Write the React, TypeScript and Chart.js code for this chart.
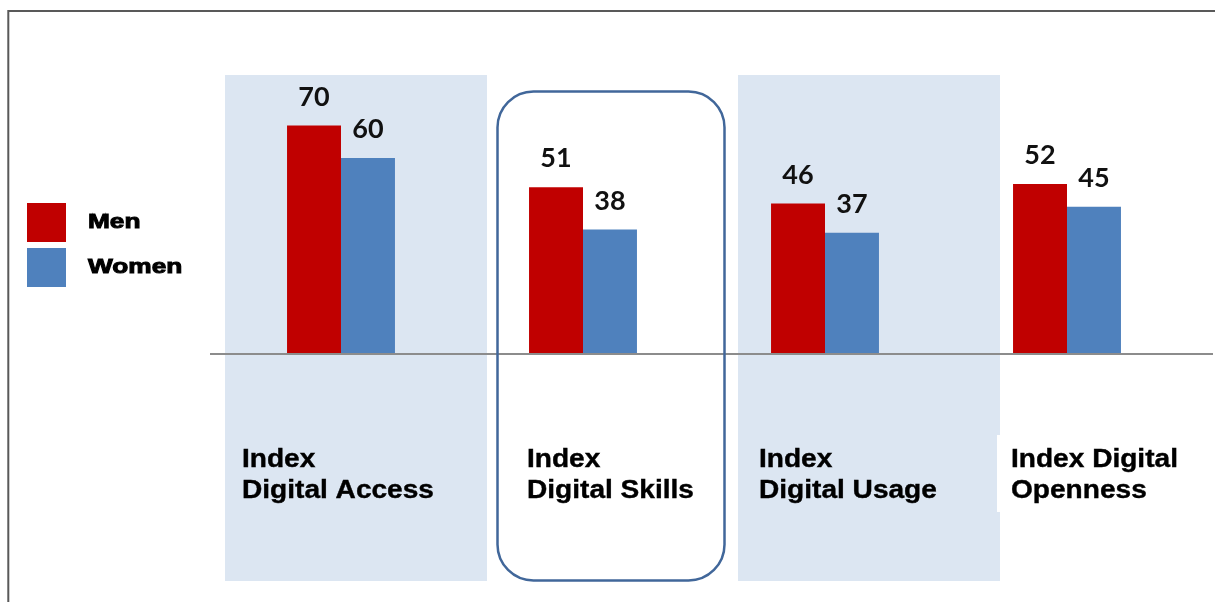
import React, { useEffect, useRef } from 'react';
import { Chart, registerables } from 'chart.js';

Chart.register(...registerables);

const categoryLines: string[][] = [
  ['Index', 'Digital Access'],
  ['Index', 'Digital Skills'],
  ['Index', 'Digital Usage'],
  ['Index Digital', 'Openness'],
];
const categories = categoryLines.map((l) => l.join(' '));
const seriesNames = ['Men', 'Women'];
const menValues = [70, 51, 46, 52];
const womenValues = [60, 38, 37, 45];
const seriesColors = ['#C00000', '#4F81BD'];

const labelOffsets = [-99, -56, -66, -56];

function scaledText(ctx: CanvasRenderingContext2D, text: string, x: number, y: number, sx: number, stroke: number) {
  ctx.save();
  ctx.translate(x, y);
  ctx.scale(sx, 1);
  ctx.fillText(text, 0, 0);
  if (stroke > 0) {
    ctx.lineWidth = stroke;
    ctx.strokeStyle = ctx.fillStyle as string;
    ctx.strokeText(text, 0, 0);
  }
  ctx.restore();
}

const decorPlugin = {
  id: 'decor',
  beforeDatasetsDraw(chart: any) {
    const { ctx, scales } = chart;
    const base = scales.y.getPixelForValue(0);
    ctx.save();
    // panels
    ctx.fillStyle = '#DCE6F2';
    ctx.fillRect(225, 75, 262, 506);
    ctx.fillRect(738, 75, 262, 506);
    // white box behind last label
    ctx.fillStyle = '#FFFFFF';
    ctx.fillRect(997, 435, 218, 77);
    // frame
    ctx.strokeStyle = '#595959';
    ctx.lineWidth = 2;
    ctx.beginPath();
    ctx.moveTo(8.3, 602);
    ctx.lineTo(8.3, 11);
    ctx.lineTo(1215, 11);
    ctx.stroke();
    // baseline
    ctx.strokeStyle = '#8C8C8C';
    ctx.lineWidth = 2;
    ctx.beginPath();
    ctx.moveTo(210, base + 1);
    ctx.lineTo(1213, base + 1);
    ctx.stroke();
    // rounded highlight box
    ctx.strokeStyle = '#41679A';
    ctx.lineWidth = 2.5;
    ctx.beginPath();
    (ctx as any).roundRect(497.5, 91.5, 227, 489, 36);
    ctx.stroke();
    ctx.restore();
  },
  afterDatasetsDraw(chart: any) {
    const { ctx, scales } = chart;
    const base = scales.y.getPixelForValue(0);
    ctx.save();
    // value labels
    ctx.fillStyle = '#111111';
    ctx.font = 'bold 27px Lato';
    ctx.textAlign = 'center';
    ctx.textBaseline = 'alphabetic';
    chart.data.datasets.forEach((ds: any, di: number) => {
      const meta = chart.getDatasetMeta(di);
      meta.data.forEach((bar: any, i: number) => {
        ctx.fillText(String(ds.data[i]), bar.x, bar.y - 20);
      });
    });
    // category labels
    ctx.textAlign = 'left';
    ctx.fillStyle = '#000000';
    ctx.font = 'bold 26px "Liberation Sans"';
    categoryLines.forEach((lines, i) => {
      const cx = scales.x.getPixelForValue(i) + labelOffsets[i];
      lines.forEach((t, li) => {
        scaledText(ctx, t, cx, base + 114 + li * 31, 1.08, 0.4);
      });
    });
    // legend
    ctx.font = 'bold 21px "Liberation Sans"';
    seriesNames.forEach((name, i) => {
      const top = 203 + i * 45;
      ctx.fillStyle = seriesColors[i];
      ctx.fillRect(27, top, 39, 39);
      ctx.fillStyle = '#000000';
      scaledText(ctx, name, 88, top + 25, 1.25, 1);
    });
    ctx.restore();
  },
};

export default function App() {
  const ref = useRef<HTMLCanvasElement | null>(null);
  useEffect(() => {
    if (!ref.current) return;
    const chart = new Chart(ref.current, {
      type: 'bar',
      data: {
        labels: categories,
        datasets: [
          { label: seriesNames[0], data: menValues, backgroundColor: seriesColors[0], borderWidth: 0 },
          { label: seriesNames[1], data: womenValues, backgroundColor: seriesColors[1], borderWidth: 0 },
        ],
      },
      options: {
        responsive: false,
        animation: false,
        layout: { padding: { left: 220, right: 27, top: 28, bottom: 249 } },
        datasets: { bar: { categoryPercentage: 0.446, barPercentage: 1 } },
        scales: {
          x: { display: false },
          y: { display: false, min: 0, max: 100 },
        },
        plugins: {
          legend: { display: false },
          title: { display: false },
          tooltip: { enabled: false },
        },
      },
      plugins: [decorPlugin],
    });
    return () => chart.destroy();
  }, []);
  return (
    <div style={{ position: 'fixed', left: 0, top: 0, width: 1215, height: 602, background: '#fff' }}>
      <canvas ref={ref} width={1215} height={602} />
    </div>
  );
}
